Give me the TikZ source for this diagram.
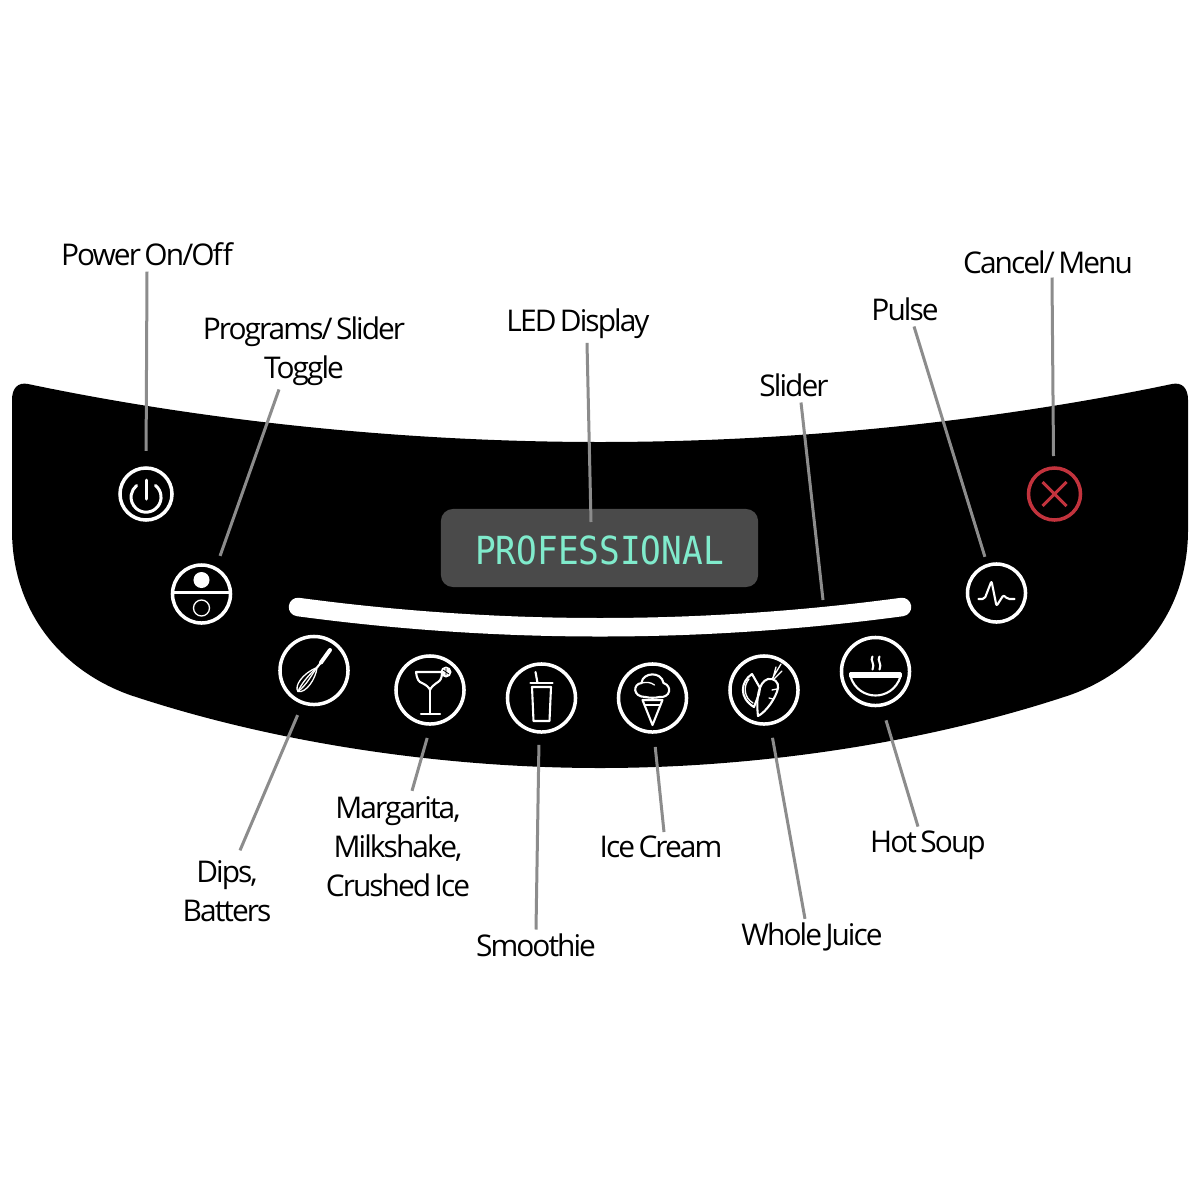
\documentclass[tikz,border=0pt]{standalone}
\usepackage{fontspec}
\setmainfont[LetterSpace=-6.5, WordSpace=0.6]{Open Sans}
\newfontfamily\lcdfont[FakeStretch=0.89]{DejaVu Sans Mono}
\usepackage{tikz}
\usetikzlibrary{positioning}
\definecolor{leadergray}{rgb}{0.55, 0.55, 0.55}
\definecolor{lcdgray}{rgb}{0.29, 0.29, 0.29}
\definecolor{lcdtext}{rgb}{0.5, 0.92, 0.8}
\definecolor{cancelred}{rgb}{0.76, 0.2, 0.24}

\begin{document}
\begin{tikzpicture}[x=0.01cm, y=-0.01cm,
		btn/.style={circle, draw=white, line width=0.035cm, inner sep=0, outer sep=0},
		smallbtn/.style={btn, minimum size=0.52cm},
		midbtn/.style={btn, minimum size=0.58cm},
		bigbtn/.style={btn, minimum size=0.68cm},
		icon/.style={white, line width=0.021cm, line cap=round, line join=round},
		thinicon/.style={white, line width=0.013cm, line cap=round, line join=round},
		thickicon/.style={white, line width=0.03cm, line cap=round, line join=round},
		leader/.style={leadergray, line width=0.03cm},
		lbl/.style={inner sep=0, outer sep=0, align=center, font=\fontsize{8.5}{11.1}\selectfont}]
		\useasboundingbox (0,0) rectangle (1200,1200);
		\fill [white] (0,0) rectangle (1200,1200);

		% panel
		\fill [black] (12,400) .. controls (12,388) and (18,382) .. (28,384)
			.. controls (200,420) and (400,442) .. (600,442)
			.. controls (800,442) and (1000,420) .. (1172,384)
			.. controls (1182,382) and (1188,388) .. (1188,400)
			-- (1188,530) .. controls (1188,610) and (1140,670) .. (1070,695)
			.. controls (920,745) and (750,768) .. (600,768)
			.. controls (450,768) and (280,745) .. (130,695)
			.. controls (60,670) and (12,610) .. (12,530) -- cycle;

		% display and slider
		\node (lcdbox) [fill=lcdgray, rounded corners=0.12cm, minimum width=3.17cm, minimum height=0.78cm, inner sep=0] at (599.5,548) {};
		\node (lcdtxt) [inner sep=0, text=lcdtext, font=\lcdfont\fontsize{11}{12}\selectfont] at (599.5,550) {PROFESSIONAL};
		\draw [white, line width=0.185cm, line cap=round] (298,607) .. controls (499,634) and (701,634) .. (902,607);

		% buttons
		\node (btnpower) [smallbtn] at (146,494) {};
		\node (btntoggle) [midbtn] at (201.5,594) {};
		\node (btnwhisk) [bigbtn] at (314,670.5) {};
		\node (btnmarg) [bigbtn] at (430,690) {};
		\node (btnsmooth) [bigbtn] at (541.5,698) {};
		\node (btnice) [bigbtn] at (652.5,698) {};
		\node (btnjuice) [bigbtn] at (764,690) {};
		\node (btnsoup) [bigbtn] at (875.5,671.5) {};
		\node (btnpulse) [midbtn] at (996.5,593) {};
		\node (btncancel) [smallbtn, draw=cancelred] at (1054.5,494) {};

		% power
		\draw [thickicon] (146,480)--(146,499);
		\draw [thickicon] (155.5,485.5) arc [start angle=51, end angle=-231, radius=0.15cm];
		% toggle
		\draw [thickicon, line cap=butt] (171.5,592.5)--(231.5,592.5);
		\fill [white] (201.5,580) circle (0.08cm);
		\draw [thinicon] (201.5,608) circle (0.08cm);
		% whisk
		\begin{scope}[shift={(btnwhisk)}]
			\draw [white, line width=0.04cm, line cap=round] (16,-20.5)--(7,-8);
			\draw [thinicon] (3,-3) .. controls (-12,3) and (-20,16) .. (-16,21) .. controls (-8,23) and (2,8) .. (3,-3);
			\draw [thinicon] (3,-3) .. controls (-6,5) and (-13,14) .. (-16,21);
			\draw [thinicon] (3,-3) .. controls (-3,5) and (-7,14) .. (-16,21);
			\draw [icon] (7,-8)--(3,-3);
		\end{scope}
		% margarita
		\begin{scope}[shift={(btnmarg)}]
			\draw [icon] (11,-18)--(-14,-18) .. controls (-13,-10) and (-11,-8) .. (-8,-7) .. controls (-4,-5) and (-1,-3) .. (0,0) .. controls (1,-3) and (5,-6) .. (8,-8) .. controls (10,-9) and (12,-12) .. (12,-17);
			\draw [icon] (0,0)--(0,24);
			\draw [icon] (-9,24)--(10,24);
			\fill [white] (16,-18) circle (0.055cm);
			\draw [black, line width=0.008cm] (13,-20)--(19,-16) (16,-22)--(16,-15);
		\end{scope}
		% smoothie
		\begin{scope}[shift={(btnsmooth)}]
			\draw [icon] (-11,-15)--(11,-15);
			\draw [icon] (-9.5,-11)--(-8,23)--(8,23)--(9.5,-11)--cycle;
			\draw [icon] (-6,-26)--(-4,-15);
		\end{scope}
		% ice cream
		\begin{scope}[shift={(btnice)}]
			\draw [icon] (-7,-1) .. controls (-20,-1) and (-20,-14) .. (-11,-15) .. controls (-10,-26) and (9,-27) .. (11,-15) .. controls (20,-12) and (18,0) .. (7,-1) .. controls (3,0) and (-3,0) .. (-7,-1);
			\draw [thinicon] (-11,-15) .. controls (-6,-16) and (-2,-16) .. (2,-13);
			\draw [icon] (-10,2)--(10,2)--(0,27)--cycle;
			\draw [thinicon] (-8,7)--(8,7);
		\end{scope}
		% whole juice
		\begin{scope}[shift={(btnjuice)}]
			\draw [icon] (-12,-16) .. controls (-24,-8) and (-25,8) .. (-10,17) -- (-5,4) -- (-4,-2) -- cycle;
			\draw [thinicon] (-15,-11) .. controls (-21,-4) and (-20,8) .. (-11,13);
			\draw [icon] (-6,26) .. controls (-8,10) and (-6,-8) .. (4,-11) .. controls (10,-12) and (15,-8) .. (14,-2) .. controls (12,8) and (2,22) .. (-6,26) -- cycle;
			\draw [thinicon] (8,-11)--(17,-26) (9,-12)--(12,-23) (10,-11)--(18,-19);
			\draw [thinicon] (13,-1)--(8,0) (9,9)--(5,8);
		\end{scope}
		% hot soup
		\begin{scope}[shift={(btnsoup)}]
			\draw [icon] (-25,5) -- (-25,2) -- (25,2) -- (25,5) -- cycle;
			\draw [icon] (-25,5) .. controls (-21,18) and (-10,24) .. (0,24) .. controls (10,24) and (21,18) .. (25,5);
			\draw [icon] (-3,-15) .. controls (-6,-11) and (0,-8) .. (-3,-2);
			\draw [icon] (4,-15) .. controls (1,-11) and (7,-8) .. (4,-2);
		\end{scope}
		% pulse
		\begin{scope}[shift={(btnpulse)}]
			\draw [icon, rounded corners=0.02cm] (-18,6)--(-12,6)--(-5,-12)--(0,13)--(7,2)--(11,6)--(18,6);
		\end{scope}
		% cancel
		\draw [cancelred, line width=0.03cm] (1042.5,506)--(1066.5,482) (1042.5,482)--(1066.5,506);

		% labels
		\node (lblpower) [lbl] at (147,254) {Power On/Off};
		\node (lbltoggle) [lbl] at (304,351) {Programs/ Slider\\Toggle};
		\node (lblled) [lbl] at (578,324) {LED Display};
		\node (lblslider) [lbl] at (794,385) {Slider};
		\node (lblpulse) [lbl] at (905,309) {Pulse};
		\node (lblcancel) [lbl] at (1048,262) {Cancel/ Menu};
		\node (lbldips) [lbl] at (227,891) {Dips,\\Batters};
		\node (lblmarg) [lbl] at (398,847) {Margarita,\\Milkshake,\\Crushed Ice};
		\node (lblsmooth) [lbl] at (536,945) {Smoothie};
		\node (lblice) [lbl] at (661,847) {Ice Cream};
		\node (lbljuice) [lbl] at (812,937) {Whole Juice};
		\node (lblsoup) [lbl] at (928,845) {Hot Soup};

		% free ends
		\coordinate (ledtip) at (591,522);
		\coordinate (slidertip) at (823,600);

		% leaders
		\draw [leader, shorten >=0.17cm] ([yshift=-0.06cm]lblpower.south) -- (btnpower.90);
		\draw [leader, shorten >=0.135cm] ([xshift=-0.25cm,yshift=-0.04cm]lbltoggle.south) -- (btntoggle.61);
		\draw [leader] ([xshift=0.09cm,yshift=-0.04cm]lblled.south) -- (ledtip);
		\draw [leader] ([xshift=0.07cm,yshift=-0.06cm]lblslider.south) -- (slidertip);
		\draw [leader, shorten >=0.09cm] ([xshift=0.09cm,yshift=-0.06cm]lblpulse.south) -- (btnpulse.108);
		\draw [leader, shorten >=0.12cm] ([xshift=0.04cm,yshift=-0.04cm]lblcancel.south) -- (btncancel.92);
		\draw [leader, shorten >=0.135cm] ([xshift=0.13cm,yshift=0.1cm]lbldips.north) -- (btnwhisk.251);
		\draw [leader, shorten >=0.145cm] ([xshift=0.14cm,yshift=0.06cm]lblmarg.north) -- (btnmarg.272);
		\draw [leader, shorten >=0.13cm] ([yshift=0.04cm]lblsmooth.north) -- (btnsmooth.266);
		\draw [leader, shorten >=0.15cm] ([xshift=0.03cm,yshift=0.04cm]lblice.north) -- (btnice.272);
		\draw [leader, shorten >=0.145cm] ([xshift=-0.07cm,yshift=0.04cm]lbljuice.north) -- (btnjuice.280.5);
		\draw [leader, shorten >=0.16cm] ([xshift=-0.1cm,yshift=0.04cm]lblsoup.north) -- (btnsoup.280);
	\end{tikzpicture}
\end{document}
